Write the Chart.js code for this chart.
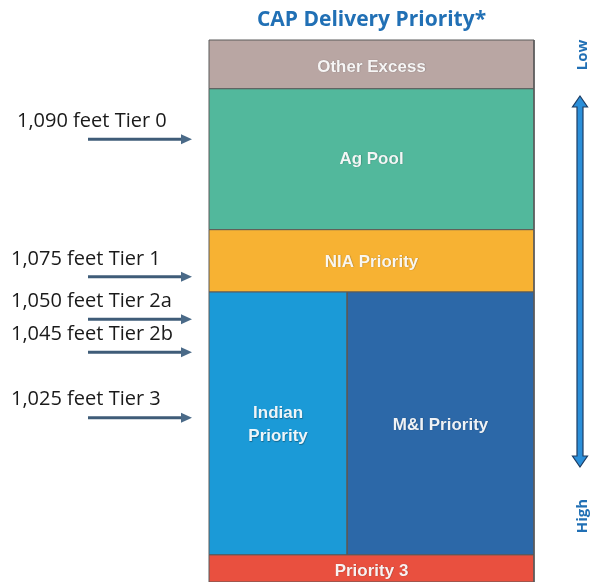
<!DOCTYPE html>
<html>
<head>
<meta charset="utf-8">
<script src="https://cdn.jsdelivr.net/npm/chart.js@4.4.1/dist/chart.umd.min.js"></script>
<style>
  html, body { margin: 0; padding: 0; background: #fff; }
  #wrap { width: 597px; height: 582px; }
</style>
</head>
<body>
<div id="wrap"><canvas id="myChart"></canvas></div>
<script>
// BLOCKS (share of the stack, bottom = highest priority)
var blockNames = ["Priority 3", "Indian Priority", "M&I Priority", "NIA Priority", "Ag Pool", "Other Excess"];
var blockBottom = [0, 5, 5, 53.5, 65, 91];
var blockTop = [5, 53.5, 53.5, 65, 91, 100];
var blockLeft = [0, 0, 42.5, 0, 0, 0];
var blockRight = [100, 42.5, 100, 100, 100, 100];
var blockColors = ["#e9503f", "#1b9ad7", "#2c68a8", "#f7b233", "#52b89c", "#b9a6a3"];
var blockText = [["Priority 3"], ["Indian", "Priority"], ["M&I Priority"], ["NIA Priority"], ["Ag Pool"], ["Other Excess"]];
// text sits a bit above the middle for the tall blocks
var blockTextLevel = [2.0, 29.0, 29.0, 59.0, 78.0, 95.0];

// TIERS (lake elevation triggers)
var tierLabels = ["1,090 feet Tier 0", "1,075 feet Tier 1", "1,050 feet Tier 2a", "1,045 feet Tier 2b", "1,025 feet Tier 3"];
var tierLevels = [81.7, 56.3, 48.5, 42.4, 30.3];

var datasets = blockNames.map(function (name, i) {
  return {
    label: name,
    data: [
      { x: blockLeft[i], y: blockBottom[i] },
      { x: blockLeft[i], y: blockTop[i] },
      { x: blockRight[i], y: blockTop[i] },
      { x: blockRight[i], y: blockBottom[i] },
      { x: blockLeft[i], y: blockBottom[i] },
    ],
    showLine: true,
    fill: "shape",
    backgroundColor: blockColors[i],
    borderColor: "#5a5a5a",
    borderWidth: 1,
    pointRadius: 0,
    tension: 0,
    clip: false,
  };
});

function arrowRight(ctx, x0, x1, y) {
  ctx.save();
  ctx.strokeStyle = "#3f5c78";
  ctx.fillStyle = "#4a6a88";
  ctx.lineWidth = 3;
  ctx.beginPath();
  ctx.moveTo(x0, y);
  ctx.lineTo(x1 - 9, y);
  ctx.stroke();
  ctx.beginPath();
  ctx.moveTo(x1, y);
  ctx.lineTo(x1 - 11, y - 5);
  ctx.lineTo(x1 - 11, y + 5);
  ctx.closePath();
  ctx.fill();
  ctx.restore();
}

var decorations = {
  id: "decorations",
  afterDatasetsDraw: function (chart) {
    var ctx = chart.ctx;
    var xs = chart.scales.x;
    var ys = chart.scales.y;
    var area = chart.chartArea;

    // block labels
    ctx.save();
    ctx.textAlign = "center";
    ctx.textBaseline = "middle";
    ctx.fillStyle = "rgba(255,255,255,0.93)";
    ctx.shadowColor = "rgba(0,0,0,0.35)";
    ctx.shadowBlur = 1;
    ctx.shadowOffsetX = 0.5;
    ctx.shadowOffsetY = 0.5;
    ctx.font = "bold 17px 'Liberation Sans', Arial, sans-serif";
    blockNames.forEach(function (name, i) {
      var cx = xs.getPixelForValue((blockLeft[i] + blockRight[i]) / 2);
      var cy = ys.getPixelForValue(blockTextLevel[i]);
      var lines = blockText[i];
      lines.forEach(function (t, j) {
        ctx.fillText(t, cx, cy + (j - (lines.length - 1) / 2) * 23);
      });
    });
    ctx.restore();

    // title
    ctx.save();
    ctx.textAlign = "center";
    ctx.textBaseline = "middle";
    ctx.fillStyle = "#2170b5";
    ctx.font = "bold 21px 'Open Sans', sans-serif";
    ctx.fillText("CAP Delivery Priority*", (area.left + area.right) / 2, area.top - 20);
    ctx.restore();

    // tier labels and arrows
    ctx.save();
    ctx.textAlign = "left";
    ctx.textBaseline = "middle";
    ctx.fillStyle = "#1a1a1a";
    ctx.font = "20px 'Open Sans', sans-serif";
    tierLabels.forEach(function (t, i) {
      var y = ys.getPixelForValue(tierLevels[i]);
      ctx.fillText(t, i == 0 ? 17 : 11, y - 18);
      arrowRight(ctx, area.left - 121, area.left - 17, y);
    });
    ctx.restore();

    // priority arrow on the right
    var ax = area.right + 46;
    var top = area.top + 56;
    var bot = area.bottom - 115;
    ctx.save();
    ctx.fillStyle = "#2b8fd9";
    ctx.strokeStyle = "#1d3c63";
    ctx.lineWidth = 1.2;
    ctx.beginPath();
    ctx.moveTo(ax, top);
    ctx.lineTo(ax + 7.5, top + 11);
    ctx.lineTo(ax + 3, top + 11);
    ctx.lineTo(ax + 3, bot - 11);
    ctx.lineTo(ax + 7.5, bot - 11);
    ctx.lineTo(ax, bot);
    ctx.lineTo(ax - 7.5, bot - 11);
    ctx.lineTo(ax - 3, bot - 11);
    ctx.lineTo(ax - 3, top + 11);
    ctx.lineTo(ax - 7.5, top + 11);
    ctx.closePath();
    ctx.fill();
    ctx.stroke();

    ctx.fillStyle = "#2170b5";
    ctx.font = "bold 15px 'Open Sans', sans-serif";
    ctx.textAlign = "center";
    ctx.textBaseline = "middle";
    [["Low", area.top + 15], ["High", area.bottom - 66]].forEach(function (p) {
      ctx.save();
      ctx.translate(ax + 3, p[1]);
      ctx.rotate(-Math.PI / 2);
      ctx.fillText(p[0], 0, 0);
      ctx.restore();
    });
    ctx.restore();
  },
};

new Chart("myChart", {
  type: "scatter",
  data: { datasets: datasets },
  options: {
    responsive: true,
    maintainAspectRatio: false,
    animation: false,
    layout: { padding: { left: 209, right: 63, top: 40, bottom: 0 } },
    scales: {
      x: { type: "linear", min: 0, max: 100, display: false },
      y: { type: "linear", min: 0, max: 100, display: false },
    },
    plugins: {
      legend: { display: false },
      tooltip: { enabled: false },
      title: { display: false },
    },
  },
  plugins: [decorations],
});
</script>
</body>
</html>
